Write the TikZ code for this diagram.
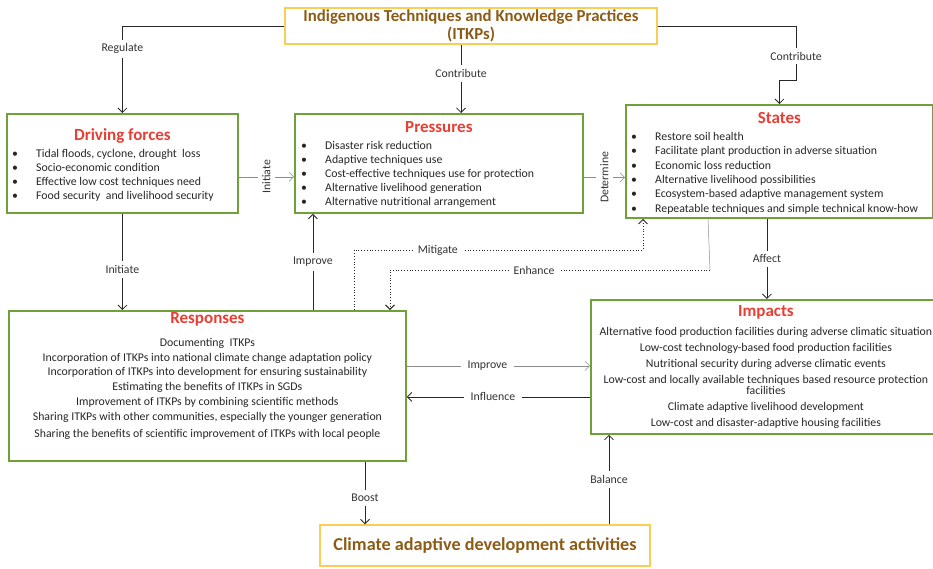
\documentclass[tikz,border=0pt]{standalone}
\usepackage{fontspec}
\setmainfont{Carlito}
\usepackage{tikz}
\usetikzlibrary{arrows.meta, positioning, calc}
\definecolor{boxgreen}{RGB}{112, 160, 56}
\definecolor{boxyellow}{RGB}{250, 205, 85}
\definecolor{titlered}{RGB}{232, 62, 52}
\definecolor{itkpbrown}{RGB}{140, 92, 22}
\definecolor{linedark}{RGB}{40, 40, 40}
\definecolor{linegray}{RGB}{140, 140, 140}
\newcommand{\dpitem}[1]{\makebox[24pt][l]{\textbullet}#1}
\tikzset{
    dpsir/.style={
        rectangle,
        draw=boxgreen,
        line width=1.8pt,
        inner sep=0pt,
        anchor=north west
    },
    keybox/.style={
        rectangle,
        draw=boxyellow,
        line width=1.4pt,
        inner sep=0pt,
        align=center,
        text=itkpbrown,
        font=\fontsize{16.8}{18}\selectfont\bfseries
    },
    boxtitle/.style={
        anchor=mid,
        inner sep=0pt,
        text=titlered,
        font=\fontsize{17}{19}\selectfont\bfseries
    },
    itemlist/.style={
        inner sep=0pt,
        align=#1,
        text=black!85,
        font=\fontsize{11.8}{14}\selectfont
    },
    link/.style={
        -{Straight Barb[length=4.5pt, width=9pt]},
        line width=0.8pt,
        draw=linedark
    },
    thinlink/.style={
        link,
        line width=0.5pt,
        draw=linegray
    },
    dotlink/.style={
        link,
        dotted,
        line width=0.9pt
    },
    lbl/.style={
        fill=white,
        inner xsep=7pt,
        inner ysep=4pt,
        text=black!80,
        font=\fontsize{11.8}{13}\selectfont
    }
}

\begin{document}
\begin{tikzpicture}[x=1pt, y=-1pt]
    \useasboundingbox (0,0) rectangle (933,568);

    % key boxes
    \node[keybox, minimum width=372pt, minimum height=36pt] (itkp) at (471,26) {Indigenous Techniques and Knowledge Practices\\(ITKPs)};
    \node[keybox, minimum width=330pt, minimum height=41pt, font=\fontsize{18.2}{20}\selectfont\bfseries] (cada) at (485,545.5) {Climate adaptive development activities};

    % DPSIR boxes
    \node[dpsir, minimum width=231pt, minimum height=99pt] (drv) at (6,113) {};
    \node[boxtitle] (drvtitle) at ($(drv.north)+(0,25)$) {Driving forces};
    \node[itemlist=left, anchor=north west] (drvlist) at ($(drv.north west)+(6,36)$) {%
        \dpitem{Tidal floods, cyclone, drought\ \ loss}\\
        \dpitem{Socio-economic condition}\\
        \dpitem{Effective low cost techniques need}\\
        \dpitem{Food security\ \ and livelihood security}};

    \node[dpsir, minimum width=288pt, minimum height=99pt] (pres) at (294,113) {};
    \node[boxtitle] (prestitle) at ($(pres.north)+(0,17)$) {Pressures};
    \node[itemlist=left, anchor=north west] (preslist) at ($(pres.north west)+(7,28)$) {%
        \dpitem{Disaster risk reduction}\\
        \dpitem{Adaptive techniques use}\\
        \dpitem{Cost-effective techniques use for protection}\\
        \dpitem{Alternative livelihood generation}\\
        \dpitem{Alternative nutritional arrangement}};

    \node[dpsir, minimum width=307pt, minimum height=113pt] (states) at (625,104) {};
    \node[boxtitle] (statestitle) at ($(states.north)+(0,17)$) {States};
    \node[itemlist=left, anchor=north west, font=\fontsize{11.8}{14.4}\selectfont] (stateslist) at ($(states.north west)+(6,28)$) {%
        \dpitem{Restore soil health}\\
        \dpitem{Facilitate plant production in adverse situation}\\
        \dpitem{Economic loss reduction}\\
        \dpitem{Alternative livelihood possibilities}\\
        \dpitem{Ecosystem-based adaptive management system}\\
        \dpitem{Repeatable techniques and simple technical know-how}};

    \node[dpsir, minimum width=397pt, minimum height=150pt] (resp) at (8,310) {};
    \node[boxtitle] (resptitle) at ($(resp.north)+(0,11)$) {Responses};
    \node[itemlist=center, anchor=north, font=\fontsize{11.8}{14.8}\selectfont] (resplist) at ($(resp.north)+(0,28)$) {%
        Documenting\ \ ITKPs\\
        Incorporation of ITKPs into national climate change adaptation policy\\
        Incorporation of ITKPs into development for ensuring sustainability\\
        Estimating the benefits of ITKPs in SGDs\\
        Improvement of ITKPs by combining scientific methods\\
        Sharing ITKPs with other communities, especially the younger generation\\[2.5pt]
        Sharing the benefits of scientific improvement of ITKPs with local people};

    \node[dpsir, minimum width=350pt, minimum height=134pt] (imp) at (590,299) {};
    \node[boxtitle] (imptitle) at ($(imp.north)+(0,15)$) {Impacts};
    \node[itemlist=center, anchor=north, font=\fontsize{11.8}{11.5}\selectfont] (implist) at ($(imp.north)+(0,28)$) {%
        Alternative food production facilities during adverse climatic situation\\[4.5pt]
        Low-cost technology-based food production facilities\\[4.5pt]
        Nutritional security during adverse climatic events\\[4.5pt]
        Low-cost and locally available techniques based resource protection\\
        facilities\\[4.5pt]
        Climate adaptive livelihood development\\[4.5pt]
        Low-cost and disaster-adaptive housing facilities};

    % helper points
    \coordinate (contribbend) at (796,80);
    \coordinate (mitleft) at (354,250);
    \coordinate (mitright) at (643,250);
    \coordinate (enhright) at (710,270);
    \coordinate (enhleft) at (390,270);

    % ITKP links
    \draw[link] (itkp.west) -| node[lbl, pos=0.63]{Regulate} (drv.north);
    \draw[link] ([xshift=-10pt]itkp.south) -- node[lbl, pos=0.42]{Contribute} ([xshift=-10pt]itkp.south |- pres.north);
    \draw[link] (itkp.east) -| node[lbl, pos=0.78]{Contribute} (contribbend) -| (states.north);

    % chain links
    \draw[thinlink] ([yshift=-13.5pt]drv.east) -- node[lbl, rotate=90]{Initiate} ([yshift=-13.5pt]drv.east -| pres.west);
    \draw[thinlink] ([yshift=-14pt]pres.east) -- node[lbl, rotate=90]{Determine} ([yshift=-14pt]pres.east -| states.west);
    \draw[link] (drv.south) -- node[lbl, pos=0.58]{Initiate} (drv.south |- resp.north);
    \draw[link] ([xshift=-126pt]pres.south |- resp.north) -- node[lbl]{Improve} ([xshift=-126pt]pres.south);
    \draw[link] ([xshift=-12.5pt]states.south) -- node[lbl]{Affect} ([xshift=-12.5pt]states.south |- imp.north);
    \draw[thinlink] ([yshift=20pt]resp.east) -- node[lbl, pos=0.44]{Improve} ([yshift=20pt]resp.east -| imp.west);
    \draw[link] ([yshift=-30pt]imp.west) -- node[lbl, pos=0.53]{Influence} ([yshift=-30pt]imp.west -| resp.east);
    \draw[link] ([xshift=-120pt]cada.north |- resp.south) -- node[lbl, pos=0.58]{Boost} ([xshift=-120pt]cada.north);
    \draw[link] ([xshift=124pt]cada.north) -- node[lbl]{Balance} ([xshift=124pt]cada.north |- imp.south);

    % dotted feedback
    \draw[dotlink] (mitleft |- resp.north) -- (mitleft) -- node[lbl, inner xsep=5pt, pos=0.29]{Mitigate} (mitright) -- (mitright |- states.south);
    \draw[line width=0.5pt, linegray] ([xshift=83pt]states.south west) -- (enhright);
    \draw[dotlink] (enhright) -- node[lbl, inner xsep=5pt, pos=0.55]{Enhance} (enhleft) -- (enhleft |- resp.north);
\end{tikzpicture}
\end{document}
